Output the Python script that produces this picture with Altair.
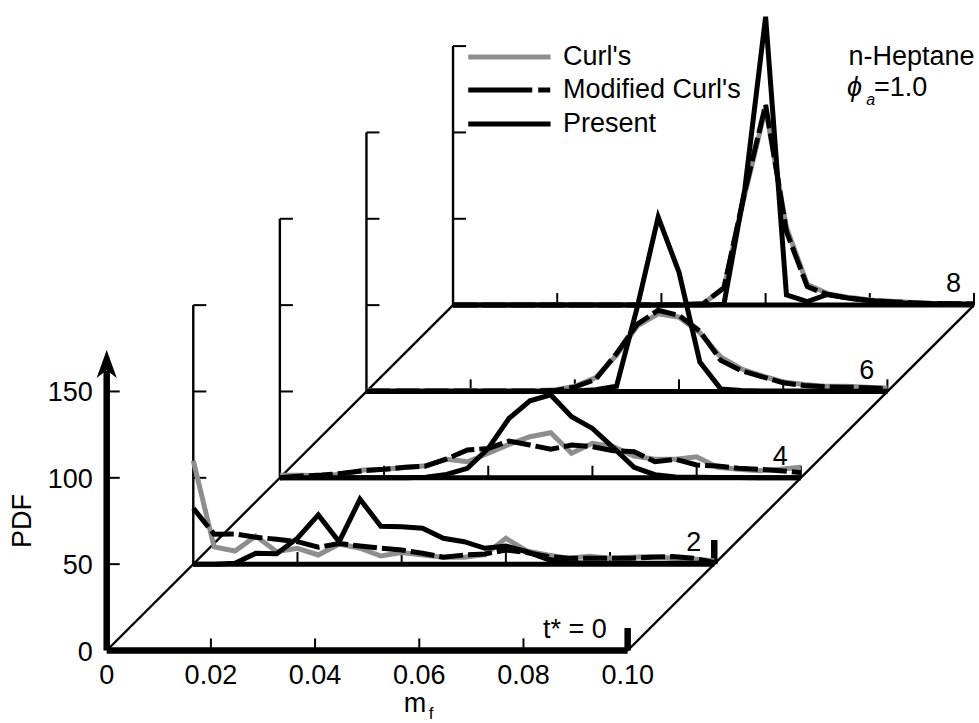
import altair as alt
import pandas as pd

# ---------------------------------------------------------------------------
# Data: mixture-fraction PDFs at successive normalised times t*
# ---------------------------------------------------------------------------
mf_bins = [0.000, 0.004, 0.008, 0.012, 0.016, 0.020, 0.024, 0.028, 0.032, 0.036,
           0.040, 0.044, 0.048, 0.052, 0.056, 0.060, 0.064, 0.068, 0.072, 0.076,
           0.080, 0.084, 0.088, 0.092, 0.096, 0.100]

models = ["Curl's", "Modified Curl's", "Present"]
slice_labels = ["t* = 0", "2", "4", "6", "8"]

# t* = 2
curl_t2 = [60.0, 10.0, 7.6, 16.3, 7.2, 9.2, 5.3, 11.7, 9.2, 4.7, 6.7, 5.3, 4.0,
           4.0, 5.5, 15.0, 7.7, 5.3, 3.4, 4.5, 3.4, 4.0, 4.5, 3.4, 3.0, 2.0]
mod_t2 = [32.4, 17.3, 17.5, 15.6, 14.4, 13.0, 9.8, 12.0, 10.5, 9.2, 8.2, 6.3, 4.0,
          5.3, 5.9, 8.2, 6.7, 4.4, 3.4, 3.4, 3.4, 3.4, 4.0, 4.4, 3.4, 1.0]
pres_t2 = [0.0, 0.0, 0.5, 6.3, 6.0, 15.0, 28.5, 13.0, 37.6, 22.0, 21.7, 20.8, 15.0,
           13.0, 9.2, 10.5, 7.2, 2.8, 1.0, 0.5, 0.5, 0.5, 0.5, 0.5, 0.5, 0.5]

# t* = 4
curl_t4 = [1.5, 1.5, 1.2, 2.0, 4.5, 5.0, 6.0, 7.0, 10.7, 9.3, 14.2, 19.4, 23.8,
           26.1, 14.2, 20.0, 18.0, 12.6, 10.7, 10.7, 12.2, 6.1, 4.9, 4.1, 4.9, 6.1]
mod_t4 = [0.0, 1.0, 1.6, 2.6, 4.1, 4.9, 6.1, 6.8, 10.9, 16.1, 17.0, 21.3, 19.0,
          16.5, 19.0, 18.0, 15.7, 15.1, 9.3, 10.7, 7.4, 6.8, 5.5, 4.9, 4.1, 3.0]
pres_t4 = [0.0, 0.0, 0.0, 0.0, 0.0, 0.0, 0.0, 0.3, 2.0, 5.5, 17.0, 34.5, 44.6,
           48.0, 35.4, 28.6, 17.5, 6.1, 1.8, 0.5, 0.3, 0.2, 0.2, 0.1, 0.1, 0.1]

# t* = 6
curl_t6 = [0.5, 0.5, 0.5, 0.5, 0.5, 0.5, 0.5, 0.5, 0.5, 0.8, 3.0, 8.0, 21.0,
           38.0, 45.0, 43.0, 34.0, 20.0, 13.0, 9.0, 5.5, 4.0, 3.0, 3.0, 2.5, 2.0]
mod_t6 = [0.3, 0.3, 0.3, 0.3, 0.3, 0.3, 0.3, 0.3, 0.3, 0.5, 2.5, 7.0, 22.0,
          39.0, 47.0, 44.0, 35.0, 18.0, 12.0, 8.5, 5.0, 3.5, 2.7, 2.5, 2.2, 1.5]
pres_t6 = [0.0, 0.0, 0.0, 0.0, 0.0, 0.0, 0.0, 0.0, 0.0, 0.0, 0.3, 1.0, 3.0,
           49.0, 101.0, 69.0, 17.0, 1.5, 0.5, 0.3, 0.2, 0.2, 0.2, 0.1, 0.1, 0.1]

# t* = 8
curl_t8 = [0.0, 0.0, 0.0, 0.0, 0.0, 0.0, 0.0, 0.0, 0.0, 0.0, 0.0, 0.3, 0.8,
           10.0, 64.0, 114.0, 45.0, 12.0, 6.5, 4.5, 3.0, 2.2, 1.5, 1.0, 0.8, 0.6]
mod_t8 = [0.0, 0.0, 0.0, 0.0, 0.0, 0.0, 0.0, 0.0, 0.0, 0.0, 0.0, 0.3, 0.8,
          10.0, 65.7, 116.0, 42.6, 10.7, 5.9, 4.0, 2.7, 2.0, 1.4, 1.0, 0.8, 0.6]
pres_t8 = [0.0, 0.0, 0.0, 0.0, 0.0, 0.0, 0.0, 0.0, 0.0, 0.0, 0.0, 0.0, 0.0,
           0.5, 67.0, 167.0, 5.9, 2.0, 6.3, 4.0, 2.5, 1.7, 1.0, 0.8, 0.6, 0.5]

# axis ticks
pdf_ticks = [0, 50, 100, 150]
mf_ticks = [0.0, 0.02, 0.04, 0.06, 0.08, 0.10]
mf_tick_text = ["0", "0.02", "0.04", "0.06", "0.08", "0.10"]

# ---------------------------------------------------------------------------
# Oblique (waterfall) projection: each later slice is shifted right and up
# ---------------------------------------------------------------------------
DX = 0.01662      # m_f shift per slice
DY = 50.0         # PDF shift per slice
MF_END = 0.10
AXIS_TOP = 150.0
N_SLICES = 4

FONT = "Liberation Sans"
FS = 27
GRAY = "#8e8e8e"

rows = []
sets = [(curl_t2, mod_t2, pres_t2), (curl_t4, mod_t4, pres_t4),
        (curl_t6, mod_t6, pres_t6), (curl_t8, mod_t8, pres_t8)]
for k, trio in enumerate(sets, start=1):
    for name, vals in zip(models, trio):
        for mf, p in zip(mf_bins, vals):
            rows.append({"k": k, "model": name, "mf": mf, "pdf": p,
                         "X": mf + k * DX, "Y": p + k * DY})
curves = pd.DataFrame(rows)

# frame segments
seg = []
def add(x, y, x2, y2, kind):
    seg.append({"x": x, "y": y, "x2": x2, "y2": y2, "kind": kind})

# front (t* = 0) axes
add(0, 0, MF_END, 0, "front")
add(0, 0, 0, 162, "front")
add(MF_END, 0, MF_END, 13, "front")
for v in pdf_ticks[1:]:
    add(0, v, 0.0025, v, "tick")
for v in mf_ticks[1:-1]:
    add(v, 0, v, 7, "tick")

# later slices
for k in range(1, N_SLICES + 1):
    x0, y0 = k * DX, k * DY
    add(x0, y0, x0 + MF_END, y0, "base")
    add(x0, y0, x0, y0 + AXIS_TOP, "thin")
    for v in pdf_ticks[1:]:
        add(x0, y0 + v, x0 + 0.0025, y0 + v, "tick")
    for v in mf_ticks[1:-1]:
        add(x0 + v, y0, x0 + v, y0 + 7, "tick")
    if k == 1:
        add(x0 + MF_END, y0, x0 + MF_END, y0 + 14, "front")
    else:
        add(x0 + MF_END, y0, x0 + MF_END, y0 + 7, "tick")

# oblique edges joining the slices
add(0, 0, N_SLICES * DX, N_SLICES * DY, "thin")
add(MF_END, 0, MF_END + N_SLICES * DX, N_SLICES * DY, "thin")
segments = pd.DataFrame(seg)

xs = alt.Scale(domain=[0, 0.167], nice=False, zero=False)
ys = alt.Scale(domain=[0, 372], nice=False, zero=False)


def rules(kind, width, cap="butt"):
    return alt.Chart(segments).transform_filter(
        alt.datum.kind == kind
    ).mark_rule(color="black", strokeWidth=width, strokeCap=cap).encode(
        x=alt.X("x:Q", scale=xs, axis=None),
        y=alt.Y("y:Q", scale=ys, axis=None),
        x2="x2:Q", y2="y2:Q",
    )


frame = [rules("thin", 2.4), rules("tick", 2.0), rules("base", 5.0),
         rules("front", 6.5)]

# arrow head on the PDF axis
arrow = alt.Chart(pd.DataFrame({"x": [0.0], "y": [165.9]})).mark_point(
    shape="M0,-1L0.72,1L0,0.45L-0.72,1Z", filled=True, size=784,
    color="black", opacity=1, strokeWidth=0
).encode(x=alt.X("x:Q", scale=xs, axis=None), y=alt.Y("y:Q", scale=ys, axis=None))

# PDF curves
styles = {
    "Curl's": dict(color=GRAY, strokeWidth=5),
    "Modified Curl's": dict(color="black", strokeWidth=5, strokeDash=[24, 5]),
    "Present": dict(color="black", strokeWidth=5),
}
curve_layers = []
for name in models:
    curve_layers.append(
        alt.Chart(curves).transform_filter(alt.datum.model == name).mark_line(
            strokeJoin="miter", strokeCap="butt", **styles[name]
        ).encode(
            x=alt.X("X:Q", scale=xs, axis=None),
            y=alt.Y("Y:Q", scale=ys, axis=None),
            detail="k:N",
            order="mf:Q",
        )
    )

# tick labels on the front axes
ytick_df = pd.DataFrame({"x": [0.0] * len(pdf_ticks), "y": pdf_ticks,
                         "t": [str(v) for v in pdf_ticks]})
ytext = alt.Chart(ytick_df).mark_text(
    font=FONT, fontSize=FS, align="right", baseline="middle", dx=-14, dy=2
).encode(x=alt.X("x:Q", scale=xs, axis=None), y=alt.Y("y:Q", scale=ys, axis=None),
         text="t:N")

xtick_df = pd.DataFrame({"x": mf_ticks, "y": [0.0] * len(mf_ticks), "t": mf_tick_text})
xtext = alt.Chart(xtick_df).mark_text(
    font=FONT, fontSize=FS, align="center", baseline="middle", dy=25
).encode(x=alt.X("x:Q", scale=xs, axis=None), y=alt.Y("y:Q", scale=ys, axis=None),
         text="t:N")

# time labels at the end of each slice
lab_df = pd.DataFrame({
    "x": [k * DX + MF_END - (0.004 if k == 0 else 0.0025) for k in range(len(slice_labels))],
    "y": [k * DY + 7.5 for k in range(len(slice_labels))],
    "t": slice_labels,
})
slab = alt.Chart(lab_df).mark_text(
    font=FONT, fontSize=FS, align="right", baseline="alphabetic"
).encode(x=alt.X("x:Q", scale=xs, axis=None), y=alt.Y("y:Q", scale=ys, axis=None),
         text="t:N")


def label(text, x, y, size=FS, align="left", baseline="middle", angle=0, style="normal"):
    return alt.Chart(pd.DataFrame({"x": [x], "y": [y], "t": [text]})).mark_text(
        font=FONT, fontSize=size, align=align, baseline=baseline, angle=angle,
        fontStyle=style
    ).encode(x=alt.X("x:Q", scale=xs, axis=None), y=alt.Y("y:Q", scale=ys, axis=None),
             text="t:N")


titles = [
    label("PDF", -0.0161, 75, angle=270, align="center"),
    label("m", 0.0592, -35.6, align="center", baseline="alphabetic"),
    label("f", 0.0618, -39.5, size=17, baseline="alphabetic"),
    label("n-Heptane", 0.1666, 343.7, align="right"),
    label("ϕ", 0.1421, 325.7, style="italic"),
    label("a", 0.1458, 318.5, size=16, style="italic"),
    label("=1.0", 0.1473, 325.7),
]

# legend
LEG_X0, LEG_X1, LEG_TX = 0.0694, 0.0852, 0.0876
LEG_Y = [343.7, 324.6, 304.9]
legend_layers = []
leg_styles = {
    "Curl's": dict(color=GRAY),
    "Modified Curl's": dict(color="black", strokeDash=[64, 6, 12]),
    "Present": dict(color="black"),
}
for name, yv in zip(models, LEG_Y):
    d = pd.DataFrame({"x": [LEG_X0], "x2": [LEG_X1], "y": [yv]})
    legend_layers.append(
        alt.Chart(d).mark_rule(strokeWidth=5, strokeCap="butt", **leg_styles[name]).encode(
            x=alt.X("x:Q", scale=xs, axis=None), x2="x2:Q",
            y=alt.Y("y:Q", scale=ys, axis=None),
        )
    )
    legend_layers.append(label(name, LEG_TX, yv))

chart = alt.layer(
    *frame, *curve_layers, arrow, ytext, xtext, slab, *titles, *legend_layers
).properties(
    width=870,
    height=642.4,
    padding={"left": 106.7, "top": 8.1, "right": 2.3, "bottom": 72.5},
    autosize=alt.AutoSizeParams(type="none"),
).configure_view(stroke=None)

chart.save("out.html", embed_options={"renderer": "svg", "actions": False})
